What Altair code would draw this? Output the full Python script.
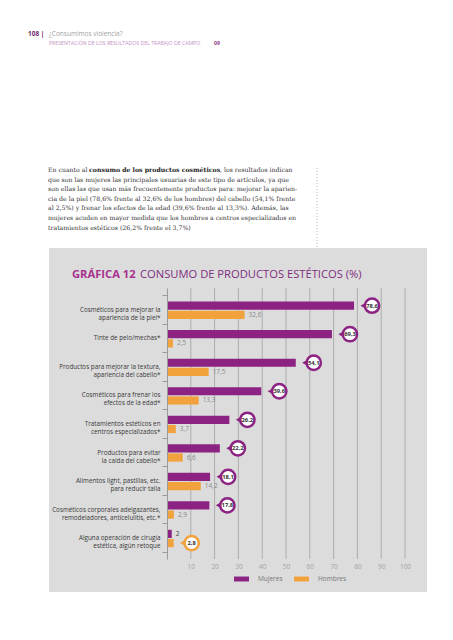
import altair as alt
import pandas as pd

# ---------------- data ----------------
categories = [
    "Cosméticos para mejorar la|apariencia de la piel*",
    "Tinte de pelo/mechas*",
    "Productos para mejorar la textura,|apariencia del cabello*",
    "Cosméticos para frenar los|efectos de la edad*",
    "Tratamientos estéticos en|centros especializados*",
    "Productos para evitar|la caída del cabello*",
    "Alimentos light, pastillas, etc.|para reducir talla",
    "Cosméticos corporales adelgazantes,|remodeladores, anticelulitis, etc.*",
    "Alguna operación de cirugía|estética, algún retoque",
]
mujeres = [78.6, 69.3, 54.1, 39.6, 26.2, 22.2, 18.1, 17.8, 2.0]
hombres = [32.6, 2.5, 17.5, 13.3, 3.7, 6.6, 14.2, 2.9, 2.8]
series = ["Mujeres", "Hombres"]
x_ticks = [10, 20, 30, 40, 50, 60, 70, 80, 90, 100]

title_bold = ["GRÁFICA 12"]
title_rest = ["CONSUMO DE PRODUCTOS ESTÉTICOS (%)"]
header_num = ["108 |"]
header_book = ["¿Consumimos violencia?"]
header_section = ["PRESENTACIÓN DE LOS RESULTADOS DEL TRABAJO DE CAMPO"]
header_chapter = ["09"]
para_first = ["En cuanto al ", "consumo de los productos cosméticos", ", los resultados indican"]
para_rest = [
    "que son las mujeres las principales usuarias de este tipo de artículos, ya que",
    "son ellas las que usan más frecuentemente productos para: mejorar la aparien-",
    "cia de la piel (78,6%  frente al 32,6% de los hombres) del cabello (54,1% frente",
    "al 2,5%) y frenar los efectos de la edad (39,6% frente al 13,3%). Además, las",
    "mujeres acuden en mayor medida que los hombres a centros especializados en",
    "tratamientos estéticos (26,2% frente el 3,7%)",
]

# ---------------- styles ----------------
PURPLE = "#8C2383"
ORANGE = "#F2A23C"
PANEL = "#DCDCDC"
GRID = "#ADADAD"
SANS = "Open Sans"
SERIF = "DejaVu Serif"
PFS = 6.2


def fmt(v):
    return f"{v:g}".replace(".", ",")


rows = []
for c, m, h in zip(categories, mujeres, hombres):
    top = max(m, h)
    rows.append({"cat": c, "serie": "Mujeres", "value": m, "label": fmt(m), "hi": m == top})
    rows.append({"cat": c, "serie": "Hombres", "value": h, "label": fmt(h), "hi": h == top})
df = pd.DataFrame(rows)
hi_df = df[df["hi"]]
lo_df = df[~df["hi"]]

x_scale = alt.Scale(domain=[0, 100], nice=False, zero=True)
y_scale = alt.Scale(paddingInner=0, paddingOuter=0.25)
off_scale = alt.Scale(paddingInner=0.109, paddingOuter=0.605, align=0.58)

X = alt.X(
    "value:Q",
    scale=x_scale,
    axis=alt.Axis(
        values=x_ticks, grid=False, domain=False, ticks=False, title=None,
        labelColor="#A3A3A3", labelFont=SANS, labelFontSize=6.5, labelPadding=4,
        labelOverlap=False, labelFlush=False, labelBound=False, zindex=1,
    ),
)
Y = alt.Y(
    "cat:N",
    sort=categories,
    scale=y_scale,
    axis=alt.Axis(
        title=None, labelExpr="split(datum.label, '|')", tickBand="extent", tickSize=5,
        tickColor="#9A9A9A", domainColor="#9A9A9A", labelColor="#3A3A3A", labelFont=SANS,
        labelFontSize=6.3, labelLineHeight=8, labelPadding=2, grid=False, zindex=1,
    ),
)
YO = alt.YOffset("serie:N", sort=series, scale=off_scale)

# ---------------- layers ----------------
one = pd.DataFrame({"a": [0]})

panel = alt.Chart(one).mark_rect(color=PANEL).encode(
    x=alt.value(-118), x2=alt.value(260), y=alt.value(-40), y2=alt.value(304)
)
dots = alt.Chart(one).mark_rule(color="#BBBBBB", strokeDash=[1, 2], strokeWidth=1).encode(
    x=alt.value(150), y=alt.value(-120), y2=alt.value(-40)
)
grid = alt.Chart(pd.DataFrame({"value": x_ticks})).mark_rule(color=GRID, strokeWidth=1).encode(
    x=X
)

bars = alt.Chart(df).mark_bar().encode(
    x=X,
    y=Y,
    yOffset=YO,
    color=alt.Color(
        "serie:N",
        scale=alt.Scale(domain=series, range=[PURPLE, ORANGE]),
        legend=alt.Legend(
            orient="none", legendX=67, legendY=283.5, direction="horizontal", title=None,
            symbolType="M-1,-0.33H1V0.33H-1Z", symbolSize=225, symbolStrokeWidth=0,
            symbolOpacity=1, labelFont=SANS, labelFontSize=6.5, labelColor="#777777",
            labelOffset=9, columnPadding=11, padding=0,
        ),
    ),
)

pointer = alt.Chart(hi_df).mark_point(
    shape="triangle-left", filled=True, size=36, opacity=1, xOffset=9
).encode(
    x=X, y=Y, yOffset=YO,
    fill=alt.Fill("serie:N", scale=alt.Scale(domain=series, range=[PURPLE, ORANGE]), legend=None),
)
circle = alt.Chart(hi_df).mark_point(
    shape="circle", size=205, fill="white", fillOpacity=1, opacity=1, strokeWidth=2.5, xOffset=18
).encode(
    x=X, y=Y, yOffset=YO,
    stroke=alt.Stroke("serie:N", scale=alt.Scale(domain=series, range=[PURPLE, ORANGE]), legend=None),
)
circle_txt = alt.Chart(hi_df).mark_text(
    xOffset=18, font=SANS, fontSize=5.8, fontWeight="bold", color="#333333",
    align="center", baseline="middle",
).encode(x=X, y=Y, yOffset=YO, text="label:N")

plain_txt = alt.Chart(lo_df).mark_text(
    xOffset=4, font=SANS, fontSize=6.5, align="left", baseline="middle",
).encode(
    x=X, y=Y, yOffset=YO, text="label:N",
    color=alt.condition("datum.serie == 'Mujeres'", alt.value("#444444"), alt.value("#8A8A8A")),
)


def txt(values, x, y, **kw):
    return alt.Chart(pd.DataFrame({"t": values})).mark_text(**kw).encode(
        x=alt.value(x), y=alt.value(y), text="t:N"
    )


title1 = txt(title_bold, -95, -10, font=SANS, fontSize=11.2, fontWeight="bold",
             color="#A8318F", align="left", baseline="alphabetic")
title2 = txt(title_rest, -27, -10, font=SANS, fontSize=11.2, color="#7E2C7F",
             align="left", baseline="alphabetic")

h1 = txt(header_num, -139, -252, font=SANS, fontSize=6.5, fontWeight="bold",
         color="#6E2A6E", align="left", baseline="alphabetic")
h2 = txt(header_book, -118, -252, font=SANS, fontSize=6.5, color="#A0A0A0",
         align="left", baseline="alphabetic")
h3 = txt(header_section, -118, -243, font=SANS, fontSize=5.2, color="#C493C2",
         align="left", baseline="alphabetic")
h4 = txt(header_chapter, 47, -243, font=SANS, fontSize=5.2, fontWeight="bold",
         color="#8C3A8A", align="left", baseline="alphabetic")

p1 = txt([para_first[0]], -119, -116, font=SERIF, fontSize=PFS, color="#333333",
         align="left", baseline="alphabetic")
p2 = txt([para_first[1]], -78, -116, font=SERIF, fontSize=PFS, fontWeight="bold",
         color="#222222", align="left", baseline="alphabetic")
p3 = txt([para_first[2]], 53, -116, font=SERIF, fontSize=PFS, color="#333333",
         align="left", baseline="alphabetic")
prest = alt.Chart(one).mark_text(
    text=para_rest, font=SERIF, fontSize=PFS, lineHeight=9.6, color="#333333",
    align="left", baseline="alphabetic",
).encode(x=alt.value(-119), y=alt.value(-106.4))

chart = alt.layer(
    panel, dots, grid, bars, pointer, circle, circle_txt, plain_txt,
    title1, title2, h1, h2, h3, h4, p1, p2, p3, prest,
).properties(
    width=238,
    height=271,
    padding={"left": 159, "top": 280, "right": 40, "bottom": 73},
    autosize=alt.AutoSizeParams(type="none"),
    background="white",
).configure_view(stroke=None)

chart.save("out.html", embed_options={"renderer": "svg", "actions": False})
